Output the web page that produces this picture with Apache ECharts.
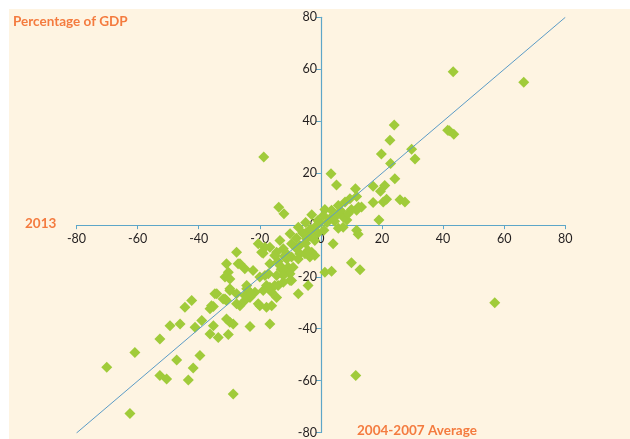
<!DOCTYPE html>
<html>
<head>
<meta charset="utf-8">
<script src="https://cdn.jsdelivr.net/npm/echarts@6/dist/echarts.min.js"></script>
<style>
html,body{margin:0;padding:0;background:#fff;}
#wrap{position:relative;width:630px;height:439px;overflow:hidden;}
#bg{position:absolute;left:9px;top:9px;width:621px;height:430px;background:#fef4e2;}
#chart{position:absolute;left:0;top:0;width:630px;height:439px;}
</style>
</head>
<body>
<div id="wrap"><div id="bg"></div><div id="chart"></div></div>
<script>
// Axis ticks
const xTicks = [-80, -60, -40, -20, 0, 20, 40, 60, 80];
const yTicks = [-80, -60, -40, -20, 0, 20, 40, 60, 80];

// 45-degree reference line endpoints
const diagonal = [[-80, -80], [80, 80]];

// Points: [2004-2007 average, 2013]
const upperRight = [
  [43.3,59],[66.4,55],[42,36.3],[43.5,35],[41.5,36.5],[24,38.5],[22.6,32.7],[19.8,27.4],
  [29.7,29.2],[30.8,25.5],[22.8,23.7],[24.2,17.9],[3.3,19.8],[5.1,15.5],[11.3,14],[11.7,11],
  [12.3,7],[17.1,15],[20.9,15.3],[19.5,13],[17.1,8.7],[20.4,8.9],[21.5,10],[25.9,9.8],
  [27.5,8.9],[19,2],[13.3,7],[1.3,6],[3.5,5.7],[5.7,7.6],[7.9,8.9],[9.5,10.2],[7.3,3.1],
  [2.9,2.5],[0.8,3.7],[5.1,3.7],[10,6],[8.5,2],[11.7,5.7],[6.5,5.5],[2,1],[4.5,1.5],[9,4.5]
];
const upperLeft = [
  [-1,1.8],[-3,4],[-12.1,4.4],[-13.8,6.9],[-18.7,26.2],[-5,1],[-0.5,0.8]
];
const nearOrigin = [
  [5.7,-1.2],[7.3,-0.8],[-2,-0.8],[-7.4,-0.8],[-10.1,-3.3],[-5.2,-3.3],[-4.7,-5.2],[-2,-5.9],
  [-9.6,-7.2],[-6.9,-7.8],[-13.4,-5.9],[-16.7,-8.5],[-12.3,-9.1],[-5.2,-11],[-3,-10.4],
  [-9.6,-12.3],[-7.4,-13],[-10.7,-16.2],[-9.6,-21.3],[-4.2,-23.2],[-7.4,-26.4],[1.3,-18.1],
  [3.5,-17.7],[4,-7.2],[10,-14.5],[12.8,-17.2],[11.7,-2],[12.2,-3.5],[-2,-11.7],[-3.6,-12.3],
  [-1,-3],[1,-2],[-20.5,-7.2],[-18.3,-8.5],[-18.9,-10.8],[-14.5,-10.4],[-11.2,-11],
  [-27.6,-10.4],[-6.9,-11],[-4.2,-9.8],[-15.1,-11.7],[-11.2,-13],[-19.4,-10.4],[-8,-5],
  [-6,-3],[-3.5,-1.5],[-8,-9],[-12,-12],[-14,-14],[-5,-7],[-3,-4],[-13,-17],[56.9,-29.9],[11.4,-57.9]
];
const lowerLeft = [
  [-30.9,-14.9],[-27.1,-14.9],[-24.9,-16.8],[-30.3,-18.1],[-22.2,-17.5],[-16.7,-14.9],
  [-13.4,-15.5],[-11.8,-17.5],[-9.1,-16.2],[-10.1,-18.7],[-17.2,-18.7],[-14.5,-19.4],
  [-10.1,-21.3],[-31.4,-20],[-29.8,-20.7],[-20,-20],[-29.8,-25.2],[-27.6,-26.4],[-24.3,-24.5],
  [-23.2,-27.8],[-21.6,-25.8],[-18.9,-25.2],[-16.1,-25.8],[-14.5,-27.8],[-16.7,-23.9],
  [-14,-23.2],[-12.3,-22],[-34.1,-26.4],[-31.4,-28.4],[-27.6,-30.3],[-35.2,-31.3],
  [-36.3,-32.2],[-42.3,-29],[-44.5,-31.6],[-20,-31],[-17.8,-31.6],[-16.1,-31],[-39,-36.7],
  [-35.2,-38.7],[-30.9,-36.1],[-29.8,-37.4],[-28.7,-38],[-46.1,-38],[-49.4,-38.7],
  [-41.2,-39.3],[-23.2,-39],[-16.7,-38],[-36.3,-41.9],[-33.6,-43.2],[-30.3,-42.1],
  [-52.7,-43.8],[-39.6,-50.2],[-47.2,-51.9],[-41.8,-55],[-60.9,-49],[-70.1,-54.7],
  [-52.7,-57.9],[-50.5,-59.2],[-43.4,-59.6],[-28.7,-65],[-62.5,-72.5],
  [-26.5,-14.9],[-29.8,-24.5],[-32,-28.4],[-34.7,-26.4],[-35.8,-31],[-26.5,-31],
  [-24.9,-27.1],[-22.7,-26.4],[-20.5,-30.3],[-18.3,-19.4],[-12.3,-19.4],[-15.1,-23.2],
  [-17.8,-23.2],[-24.3,-23.2],[-24.9,-29],[-30.9,-29]
];
const points = upperRight.concat(upperLeft, nearOrigin, lowerLeft);

const axisColor = '#5da6c8';
const labelFont = {color:'#231f20', fontFamily:'Lato', fontSize:12.5};
const X0 = xTicks[0], X1 = xTicks[xTicks.length-1];
const Y0 = yTicks[0], Y1 = yTicks[yTicks.length-1];

// plot area geometry (pixels)
const L = 76.5, W = 488.8, T = 17.3, H = 415.7;
const zeroY = T + H * (Y1 / (Y1 - Y0));   // pixel row of y = 0
const zeroX = L + W * (-X0 / (X1 - X0));  // pixel column of x = 0

const chart = echarts.init(document.getElementById('chart'));
chart.setOption({
  backgroundColor: 'transparent',
  animation: false,
  grid: [
    {left: L, width: W, top: T, height: H},                 // data
    {left: L, width: W, top: T, height: zeroY - T},         // x axis at y=0
    {left: zeroX, width: L + W - zeroX, top: T, height: H}  // y axis at x=0
  ],
  xAxis: [
    {gridIndex:0, type:'value', min:X0, max:X1, interval:20, show:false},
    {gridIndex:1, type:'value', min:X0, max:X1, interval:20, position:'bottom',
      axisLine:{onZero:false, lineStyle:{color:axisColor, width:1.2}},
      axisTick:{show:true, inside:false, length:4, lineStyle:{color:axisColor}},
      axisLabel:Object.assign({margin:7, showMinLabel:true, showMaxLabel:true}, labelFont),
      splitLine:{show:false}},
    {gridIndex:2, type:'value', min:0, max:X1, show:false}
  ],
  yAxis: [
    {gridIndex:0, type:'value', min:Y0, max:Y1, interval:20, show:false},
    {gridIndex:1, type:'value', min:0, max:Y1, show:false},
    {gridIndex:2, type:'value', min:Y0, max:Y1, interval:20, position:'left',
      axisLine:{onZero:false, lineStyle:{color:axisColor, width:1.2}},
      axisTick:{show:true, inside:false, length:5, lineStyle:{color:axisColor}},
      axisLabel:Object.assign({margin:4, showMinLabel:true, showMaxLabel:true}, labelFont),
      splitLine:{show:false}}
  ],
  graphic: [
    {type:'text', left: 13, top: 15, style:{text:'Percentage of GDP', fill:'#f47b3f', font:'bold 13.5px Lato'}},
    {type:'text', left: 25, top: 217, style:{text:'2013', fill:'#f47b3f', font:'bold 13.5px Lato'}},
    {type:'text', left: 357, top: 424, style:{text:'2004-2007 Average', fill:'#f47b3f', font:'bold 13.5px Lato'}}
  ],
  series: [
    {
      type: 'scatter', xAxisIndex:0, yAxisIndex:0, data: points, symbol: 'diamond', symbolSize: [11, 11],
      itemStyle: {color: '#a0cb3a', opacity: 1}, z: 2
    },
    {
      type: 'line', xAxisIndex:0, yAxisIndex:0, data: diagonal, symbol: 'none', z: 3,
      lineStyle: {color: '#5b9bc6', width: 1}
    }
  ]
});
</script>
</body>
</html>
